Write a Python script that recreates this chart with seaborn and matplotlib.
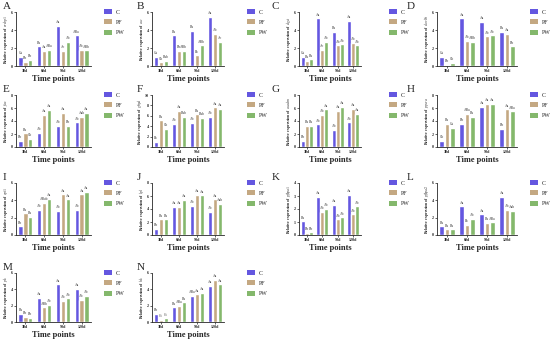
import matplotlib
matplotlib.use("Agg")
import matplotlib.pyplot as plt
import matplotlib.patches as mpatches
import seaborn as sns
import pandas as pd

times = ["30d", "60d", "90d", "120d"]
groups = ["C", "PF", "PW"]
colors = ["#6457E0", "#C4A882", "#84B86C"]

# values per panel: one row per group (C, PF, PW), one column per time point
A_vals = [[1.0, 2.2, 4.5, 3.4], [0.45, 1.7, 1.7, 1.8], [0.65, 1.8, 2.7, 1.75]]
A_sig = [["Ca", "Ba", "Aa", "ABa"], ["Bb", "Aa", "Ac", "Ab"], ["Bb", "ABa", "Ab", "ABb"]]
B_vals = [[1.0, 3.4, 3.9, 5.5], [0.4, 1.7, 1.2, 3.6], [0.6, 1.7, 2.3, 2.7]]
B_sig = [["Ca", "Ba", "Ba", "Aa"], ["Cb", "Bb", "Bc", "Ab"], ["Bab", "ABb", "ABb", "Ac"]]
C_vals = [[1.0, 5.3, 3.8, 5.0], [0.6, 1.8, 2.3, 2.6], [0.75, 2.7, 2.4, 2.3]]
C_sig = [["Ca", "Aa", "Ba", "Aa"], ["Ba", "Ac", "Ab", "Ab"], ["Ba", "Ab", "Ab", "Ab"]]
D_vals = [[1.05, 5.3, 4.9, 3.8], [0.1, 2.8, 3.3, 3.6], [0.35, 2.7, 3.4, 2.2]]
D_sig = [["Ca", "Aa", "Aa", "Ba"], ["Bb", "Ab", "Ab", "Aa"], ["Cb", "ABb", "Ab", "Bb"]]
E_vals = [[1.0, 2.2, 3.3, 3.8], [2.1, 4.9, 5.3, 4.6], [1.3, 5.7, 3.3, 5.3]]
E_sig = [["Bb", "Ab", "Ab", "Ab"], ["Ba", "Aa", "Aa", "Aab"], ["Cb", "Aa", "Bb", "Aa"]]
F_vals = [[1.0, 4.5, 4.7, 5.8], [5.1, 6.9, 6.3, 7.6], [3.5, 5.8, 5.6, 7.4]]
F_sig = [["Bc", "Ab", "Ab", "Ab"], ["Ba", "Aa", "Ba", "Aa"], ["Cb", "Bab", "Bab", "Aa"]]
G_vals = [[1.0, 3.5, 2.6, 3.8], [3.3, 5.0, 5.6, 5.9], [3.3, 5.8, 6.2, 5.1]]
G_sig = [["Bb", "Ab", "Ab", "Ab"], ["Ba", "Ab", "Aa", "Aa"], ["Ba", "Aa", "Aa", "Aa"]]
H_vals = [[1.0, 3.6, 6.2, 2.8], [3.6, 5.1, 6.6, 5.8], [2.9, 4.6, 6.6, 5.5]]
H_sig = [["Cb", "Bb", "Aa", "Bb"], ["Ba", "ABa", "Aa", "Aa"], ["Ca", "Ba", "Aa", "ABa"]]
I_vals = [[1.0, 2.9, 2.8, 2.9], [2.5, 3.7, 4.7, 4.7], [2.1, 4.2, 4.1, 5.0]]
I_sig = [["Bb", "Ab", "Ab", "Ab"], ["Ba", "ABab", "Aa", "Aa"], ["Ba", "Aa", "Aa", "Aa"]]
J_vals = [[1.0, 4.3, 4.5, 3.6], [2.4, 4.3, 6.2, 5.5], [2.4, 5.4, 6.1, 4.8]]
J_sig = [["Bb", "Aa", "Ab", "Ab"], ["Ba", "Aa", "Aa", "Aa"], ["Ba", "Aa", "Aa", "Aab"]]
K_vals = [[1.05, 2.95, 2.3, 3.1], [0.15, 1.8, 1.2, 1.6], [0.2, 2.0, 1.35, 2.2]]
K_sig = [["Ba", "Aa", "Aa", "Aa"], ["Bb", "Ab", "Ab", "Ab"], ["Bb", "Ab", "Ab", "Ab"]]
L_vals = [[1.0, 3.3, 2.4, 4.4], [0.65, 1.2, 1.4, 2.9], [0.65, 1.85, 1.45, 2.8]]
L_sig = [["Ba", "Aa", "Aa", "Aa"], ["Ba", "Bc", "Ba", "Ab"], ["Ba", "Ab", "ABa", "Aab"]]
M_vals = [[1.0, 3.0, 4.6, 4.1], [0.6, 1.8, 2.6, 2.7], [0.5, 2.1, 2.9, 3.2]]
M_sig = [["Ba", "Aa", "Aa", "Aa"], ["Bb", "ABb", "Ab", "Ab"], ["Bb", "Ab", "Ab", "Ab"]]
N_vals = [[1.0, 1.8, 3.2, 4.4], [0.3, 2.0, 3.4, 5.2], [0.45, 2.4, 3.6, 4.6]]
N_sig = [["Bb", "Ba", "ABa", "Aa"], ["Cc", "ABa", "Aa", "Aa"], ["Cc", "Ba", "Aa", "Aa"]]

genes = ["srebp1", "acc", "dgat", "elovl6", "fas", "g6pd", "acadm",
         "ppara", "cpt1", "lpl", "pfkpa1", "pfkpa2", "pk", "hk"]
letters = list("ABCDEFGHIJKLMN")
ymax = [6, 6, 6, 6, 8, 10, 8, 8, 6, 8, 4, 6, 6, 6]
ystep = [2, 2, 2, 2, 2, 2, 2, 2, 2, 2, 1, 2, 2, 2]
all_vals = [A_vals, B_vals, C_vals, D_vals, E_vals, F_vals, G_vals,
            H_vals, I_vals, J_vals, K_vals, L_vals, M_vals, N_vals]
all_sig = [A_sig, B_sig, C_sig, D_sig, E_sig, F_sig, G_sig,
           H_sig, I_sig, J_sig, K_sig, L_sig, M_sig, N_sig]

sns.set_style("ticks")
plt.rcParams["font.family"] = ["Liberation Serif", "DejaVu Serif"]
plt.rcParams["mathtext.fontset"] = "stix"

W, H = 550, 344
fig = plt.figure(figsize=(5.5, 3.44), dpi=100)

col_left = [16, 152, 299, 437]
col_w = [75, 72, 62, 80]
col_leg = [104, 247, 389, 530]
col_letter = [3, 137, 272, 407]
row_top = [12, 95, 183, 273]
row_bot = [66, 147, 235, 322]

handles = [mpatches.Patch(facecolor=c, edgecolor="none", label=g) for c, g in zip(colors, groups)]

for i in range(14):
    r, c = divmod(i, 4)
    l, w = col_left[c], col_w[c]
    t, b = row_top[r], row_bot[r]
    ax = fig.add_axes([l / W, 1 - b / H, w / W, (b - t) / H])

    rows = []
    for g, vals in zip(groups, all_vals[i]):
        for tp, v in zip(times, vals):
            rows.append({"time": tp, "group": g, "value": v})
    df = pd.DataFrame(rows)
    sns.barplot(data=df, x="time", y="value", hue="group", palette=colors,
                order=times, hue_order=groups, ax=ax, width=0.78, gap=0.08,
                legend=False, errorbar=None, saturation=1)

    for cont, labs in zip(ax.containers, all_sig[i]):
        ax.bar_label(cont, labels=labs, fontsize=2.6, padding=1.2, color="#333333")

    ax.set_ylim(0, ymax[i])
    ax.set_yticks(range(0, ymax[i] + 1, ystep[i]))
    ax.tick_params(axis="both", labelsize=3, length=1.5, width=0.5, pad=0.8)
    for lab in ax.get_xticklabels():
        lab.set_fontweight("bold")
    for lab in ax.get_yticklabels():
        lab.set_fontweight("bold")
    sns.despine(ax=ax)
    for s in ["left", "bottom"]:
        ax.spines[s].set_linewidth(0.6)
    ax.set_xlabel("Time points", fontsize=6, fontweight="bold", labelpad=1)
    ax.set_ylabel("Relative expression of $\\it{" + genes[i] + "}$",
                  fontsize=2.8, fontweight="bold", labelpad=0.5)

    ax.legend(handles=handles, loc="upper left",
              bbox_to_anchor=(col_leg[c] / W, 1 - (t - 3) / H),
              bbox_transform=fig.transFigure, frameon=False, fontsize=4.2,
              handlelength=1.3, handleheight=1.0, labelspacing=0.8,
              handletextpad=0.7, borderaxespad=0, borderpad=0)

    fig.text(col_letter[c] / W, 1 - (t - 10) / H, letters[i], fontsize=8,
             va="top", ha="left")

fig.savefig("out.png", dpi=100)
